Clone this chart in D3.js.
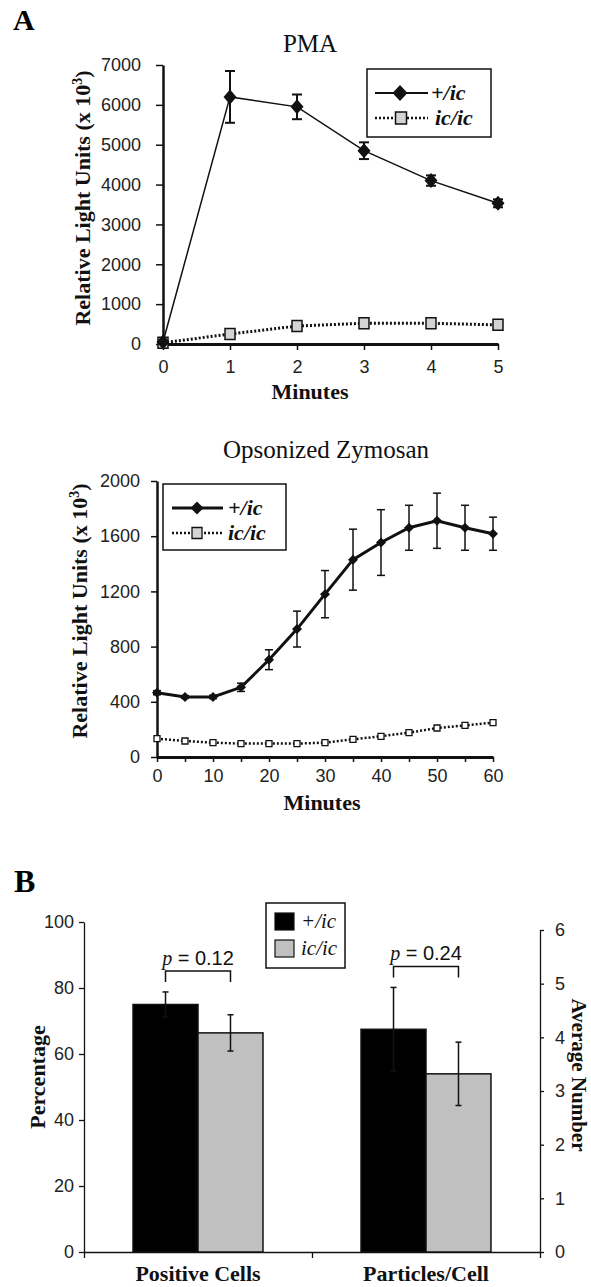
<!DOCTYPE html>
<html><head><meta charset="utf-8">
<script src="https://cdn.jsdelivr.net/npm/d3@7"></script>
<style>html,body{margin:0;padding:0;background:#fff;overflow:hidden}</style>
</head><body>
<svg id="c" width="591" height="1287"></svg>
<script>
// ---------- DATA ----------
const groups = ["+/ic", "ic/ic"];

// Panel A – PMA
const pmaMinutes = [0, 1, 2, 3, 4, 5];
const pmaHet = [50, 6200, 5950, 4850, 4100, 3530];
const pmaHetErr = [40, 650, 310, 210, 130, 100];
const pmaHom = [30, 250, 450, 520, 520, 480];
const pmaYTicks = [0, 1000, 2000, 3000, 4000, 5000, 6000, 7000];

// Panel A – Opsonized Zymosan
const zymMinutes = [0, 5, 10, 15, 20, 25, 30, 35, 40, 45, 50, 55, 60];
const zymHet = [466, 435, 435, 505, 705, 927, 1180, 1430, 1554, 1661, 1712, 1661, 1618];
const zymHetErr = [15, 10, 12, 30, 72, 130, 171, 221, 238, 163, 200, 163, 120];
const zymHom = [133, 116, 104, 97, 97, 97, 104, 128, 150, 176, 210, 229, 249];
const zymYTicks = [0, 400, 800, 1200, 1600, 2000];
const zymXTicks = [0, 5, 10, 15, 20, 25, 30, 35, 40, 45, 50, 55, 60];

// Panel B
const barCategories = ["Positive Cells", "Particles/Cell"];
const barHet = [75.0, 4.15];
const barHetErr = [3.8, 0.78];
const barHom = [66.4, 3.32];
const barHomErr = [5.5, 0.59];
const pValues = ["0.12", "0.24"];
const barLeftTicks = [0, 20, 40, 60, 80, 100];
const barRightTicks = [0, 1, 2, 3, 4, 5, 6];

// ---------- HELPERS ----------
const SERIF = "'Liberation Serif','Times New Roman',serif";
const SANS = "'Liberation Sans',Arial,sans-serif";
const svg = d3.select("#c");

const diamondPath = (w, h) => `M0,${-h/2}L${w/2},0L0,${h/2}L${-w/2},0Z`;
const squarePath = (w, h) => `M${-w/2},${-h/2}h${w}v${h}h${-w}Z`;

function styleAxis(g, dw, tw, fs) {
  g.attr("font-family", SANS).attr("font-size", fs);
  g.select(".domain").attr("stroke", "#111").attr("stroke-width", dw);
  g.selectAll(".tick line").attr("stroke", "#111").attr("stroke-width", tw);
  g.selectAll(".tick text").attr("fill", "#222");
}

function yLabel(x, cy, rot, fs = 22) {
  return svg.append("text")
    .attr("transform", `translate(${x},${cy}) rotate(${rot})`)
    .attr("text-anchor", "middle")
    .attr("font-family", SERIF).attr("font-weight", "bold").attr("font-size", fs)
    .attr("fill", "#111");
}

function rluLabel(x, cy) {
  const t = yLabel(x, cy, -90);
  t.append("tspan").text("Relative Light Units (x 10");
  t.append("tspan").attr("font-size", 14).attr("dy", -8).text("3");
  t.append("tspan").attr("dy", 8).text(")");
}

function errBars(g, xs, xsFn, ysFn, vals, errs, cap, sw) {
  const d = xs.map((m, i) => ({ m, v: vals[i], e: errs[i] }));
  g.selectAll(null).data(d).join("line")
    .attr("x1", a => xsFn(a.m)).attr("x2", a => xsFn(a.m))
    .attr("y1", a => ysFn(a.v - a.e)).attr("y2", a => ysFn(a.v + a.e))
    .attr("stroke", "#111").attr("stroke-width", sw);
  [1, -1].forEach(s => {
    g.selectAll(null).data(d).join("line")
      .attr("x1", a => xsFn(a.m) - cap/2).attr("x2", a => xsFn(a.m) + cap/2)
      .attr("y1", a => ysFn(a.v + s*a.e)).attr("y2", a => ysFn(a.v + s*a.e))
      .attr("stroke", "#111").attr("stroke-width", sw);
  });
}

// Panel letters
svg.append("text").attr("x", 13).attr("y", 30).attr("font-family", SERIF)
  .attr("font-weight", "bold").attr("font-size", 30).text("A");
svg.append("text").attr("x", 14).attr("y", 892).attr("font-family", SERIF)
  .attr("font-weight", "bold").attr("font-size", 32).text("B");

// ---------- PMA ----------
{
  const x = d3.scaleLinear([0, 5], [163, 498]);
  const y = d3.scaleLinear([0, 7000], [344, 65]);

  svg.append("text").attr("x", 310).attr("y", 52).attr("text-anchor", "middle")
    .attr("font-family", SERIF).attr("font-size", 25).attr("fill", "#111").text("PMA");

  const gx = svg.append("g").attr("transform", `translate(0,${y(0)})`)
    .call(d3.axisBottom(x).tickValues(pmaMinutes).tickFormat(d3.format("d"))
      .tickSize(6).tickSizeOuter(0).tickPadding(10));
  styleAxis(gx, 3, 1.5, 18);
  const gy = svg.append("g").attr("transform", `translate(${x(0)},0)`)
    .call(d3.axisLeft(y).tickValues(pmaYTicks).tickFormat(d3.format("d"))
      .tickSize(7).tickSizeOuter(0).tickPadding(15));
  styleAxis(gy, 2.5, 1.5, 18);

  rluLabel(90, 198);
  svg.append("text").attr("x", 310).attr("y", 399).attr("text-anchor", "middle")
    .attr("font-family", SERIF).attr("font-weight", "bold").attr("font-size", 22)
    .attr("fill", "#111").text("Minutes");

  const line = d3.line().x((d, i) => x(pmaMinutes[i])).y(d => y(d));
  svg.append("path").attr("d", line(pmaHom)).attr("fill", "none")
    .attr("stroke", "#111").attr("stroke-width", 3).attr("stroke-dasharray", "2,2");
  svg.append("path").attr("d", line(pmaHet)).attr("fill", "none")
    .attr("stroke", "#111").attr("stroke-width", 1.5);

  errBars(svg.append("g"), pmaMinutes, x, y, pmaHet, pmaHetErr, 10, 2);

  svg.append("g").selectAll("path").data(pmaHom).join("path")
    .attr("transform", (d, i) => `translate(${x(pmaMinutes[i])},${y(d)})`)
    .attr("d", squarePath(10, 11)).attr("fill", "#d4d4d4").attr("stroke", "#111").attr("stroke-width", 1.5);
  svg.append("g").selectAll("path").data(pmaHet).join("path")
    .attr("transform", (d, i) => `translate(${x(pmaMinutes[i])},${y(d)})`)
    .attr("d", diamondPath(13, 15)).attr("fill", "#111");

  // legend
  const lg = svg.append("g");
  lg.append("rect").attr("x", 367).attr("y", 69).attr("width", 124).attr("height", 68)
    .attr("fill", "#fff").attr("stroke", "#111").attr("stroke-width", 1.5);
  lg.append("line").attr("x1", 375).attr("x2", 428).attr("y1", 93).attr("y2", 93)
    .attr("stroke", "#111").attr("stroke-width", 2);
  lg.append("path").attr("transform", "translate(400,93)").attr("d", diamondPath(15, 16)).attr("fill", "#111");
  lg.append("line").attr("x1", 375).attr("x2", 428).attr("y1", 118).attr("y2", 118)
    .attr("stroke", "#111").attr("stroke-width", 2.5).attr("stroke-dasharray", "2,2");
  lg.append("path").attr("transform", "translate(401,118)").attr("d", squarePath(11, 12))
    .attr("fill", "#d4d4d4").attr("stroke", "#111").attr("stroke-width", 1.5);
  lg.selectAll("text").data(groups).join("text")
    .attr("x", (d, i) => i ? 435 : 431).attr("y", (d, i) => 100 + i*25)
    .attr("font-family", SERIF).attr("font-style", "italic").attr("font-weight", "bold")
    .attr("font-size", 22).attr("fill", "#111").text(d => d);
}

// ---------- Opsonized Zymosan ----------
{
  const x = d3.scaleLinear([0, 60], [157, 493]);
  const y = d3.scaleLinear([0, 2000], [757, 481]);

  svg.append("text").attr("x", 326).attr("y", 458).attr("text-anchor", "middle")
    .attr("font-family", SERIF).attr("font-size", 25).attr("fill", "#111").text("Opsonized Zymosan");

  const gx = svg.append("g").attr("transform", `translate(0,${y(0)})`)
    .call(d3.axisBottom(x).tickValues(zymXTicks).tickFormat(d => d % 10 === 0 ? d : "")
      .tickSize(5).tickSizeOuter(0).tickPadding(7));
  styleAxis(gx, 3, 1.5, 18);
  const gy = svg.append("g").attr("transform", `translate(${x(0)},0)`)
    .call(d3.axisLeft(y).tickValues(zymYTicks).tickFormat(d3.format("d"))
      .tickSize(6).tickSizeOuter(0).tickPadding(11));
  styleAxis(gy, 2.5, 1.5, 18);

  rluLabel(87, 611);
  svg.append("text").attr("x", 322).attr("y", 810).attr("text-anchor", "middle")
    .attr("font-family", SERIF).attr("font-weight", "bold").attr("font-size", 22)
    .attr("fill", "#111").text("Minutes");

  const line = d3.line().x((d, i) => x(zymMinutes[i])).y(d => y(d));
  svg.append("path").attr("d", line(zymHom)).attr("fill", "none")
    .attr("stroke", "#111").attr("stroke-width", 2.5).attr("stroke-dasharray", "2,2");
  svg.append("path").attr("d", line(zymHet)).attr("fill", "none")
    .attr("stroke", "#111").attr("stroke-width", 3);

  errBars(svg.append("g"), zymMinutes, x, y, zymHet, zymHetErr, 8, 1.5);

  svg.append("g").selectAll("path").data(zymHom).join("path")
    .attr("transform", (d, i) => `translate(${x(zymMinutes[i])},${y(d)})`)
    .attr("d", squarePath(6, 6)).attr("fill", "#fff").attr("stroke", "#111").attr("stroke-width", 1.3);
  svg.append("g").selectAll("path").data(zymHet).join("path")
    .attr("transform", (d, i) => `translate(${x(zymMinutes[i])},${y(d)})`)
    .attr("d", diamondPath(10, 10)).attr("fill", "#111");

  const lg = svg.append("g");
  lg.append("rect").attr("x", 163).attr("y", 484).attr("width", 123).attr("height", 66)
    .attr("fill", "#fff").attr("stroke", "#111").attr("stroke-width", 1.5);
  lg.append("line").attr("x1", 172).attr("x2", 223).attr("y1", 508).attr("y2", 508)
    .attr("stroke", "#111").attr("stroke-width", 3);
  lg.append("path").attr("transform", "translate(197,508)").attr("d", diamondPath(13, 13)).attr("fill", "#111");
  lg.append("line").attr("x1", 172).attr("x2", 223).attr("y1", 533).attr("y2", 533)
    .attr("stroke", "#111").attr("stroke-width", 2.5).attr("stroke-dasharray", "2,2");
  lg.append("path").attr("transform", "translate(197,533)").attr("d", squarePath(10, 11))
    .attr("fill", "#d4d4d4").attr("stroke", "#111").attr("stroke-width", 1.3);
  lg.selectAll("text").data(groups).join("text")
    .attr("x", 228).attr("y", (d, i) => 515 + i*25)
    .attr("font-family", SERIF).attr("font-style", "italic").attr("font-weight", "bold")
    .attr("font-size", 22).attr("fill", "#111").text(d => d);
}

// ---------- Panel B ----------
{
  const xb = d3.scaleBand().domain(barCategories).range([84, 540]).paddingInner(0.43).paddingOuter(0.215);
  const xg = d3.scaleBand().domain(groups).range([0, xb.bandwidth()]);
  const yL = d3.scaleLinear([0, 100], [1252, 922]);
  const yR = d3.scaleLinear([0, 6], [1252, 930]);
  const scaleFor = i => i === 0 ? yL : yR;
  const fills = ["#000", "#c0c0c0"];

  const rows = [];
  barCategories.forEach((c, i) => {
    rows.push({ c, i, g: groups[0], v: barHet[i], e: barHetErr[i] });
    rows.push({ c, i, g: groups[1], v: barHom[i], e: barHomErr[i] });
  });

  // axes
  const gl = svg.append("g").attr("transform", "translate(84,0)")
    .call(d3.axisLeft(yL).tickValues(barLeftTicks).tickFormat(d3.format("d"))
      .tickSize(5).tickSizeOuter(0).tickPadding(5));
  styleAxis(gl, 1.3, 1.3, 18);
  const gr = svg.append("g").attr("transform", "translate(540,0)")
    .call(d3.axisRight(yR).tickValues(barRightTicks).tickFormat(d3.format("d"))
      .tickSize(4).tickSizeOuter(0).tickPadding(11));
  styleAxis(gr, 1.3, 1.3, 18);
  const xEdge = d3.scaleLinear([0, 2], [84, 540]);
  const gx = svg.append("g").attr("transform", "translate(0,1252)")
    .call(d3.axisBottom(xEdge).tickValues([0, 1, 2]).tickFormat("").tickSize(6).tickSizeOuter(0));
  styleAxis(gx, 1.3, 1.3, 18);
  const gc = svg.append("g").attr("transform", "translate(0,1252)")
    .call(d3.axisBottom(xb).tickSize(0).tickPadding(13));
  gc.select(".domain").remove();
  gc.attr("font-family", SERIF).attr("font-size", 22).attr("font-weight", "bold");
  gc.selectAll(".tick text").attr("fill", "#111");

  // bars
  svg.append("g").selectAll("rect").data(rows).join("rect")
    .attr("x", d => xb(d.c) + xg(d.g)).attr("width", xg.bandwidth())
    .attr("y", d => scaleFor(d.i)(d.v)).attr("height", d => scaleFor(d.i)(0) - scaleFor(d.i)(d.v))
    .attr("fill", d => fills[groups.indexOf(d.g)]).attr("stroke", "#111").attr("stroke-width", 1.5);

  // error bars
  const eg = svg.append("g");
  rows.forEach(d => {
    const s = scaleFor(d.i), cx = xb(d.c) + xg(d.g) + xg.bandwidth()/2;
    eg.append("line").attr("x1", cx).attr("x2", cx).attr("y1", s(d.v - d.e)).attr("y2", s(d.v + d.e))
      .attr("stroke", "#111").attr("stroke-width", 1.5);
    [1, -1].forEach(k => eg.append("line").attr("x1", cx - 3).attr("x2", cx + 3)
      .attr("y1", s(d.v + k*d.e)).attr("y2", s(d.v + k*d.e)).attr("stroke", "#111").attr("stroke-width", 1.5));
  });

  // p-value brackets
  barCategories.forEach((c, i) => {
    const s = scaleFor(i);
    const x1 = xb(c) + xg(groups[0]) + xg.bandwidth()/2;
    const x2 = xb(c) + xg(groups[1]) + xg.bandwidth()/2;
    const topErr = Math.min(s(barHet[i] + barHetErr[i]), s(barHom[i] + barHomErr[i]));
    const legB = topErr - 10, top = legB - 11;
    svg.append("path").attr("d", `M${x1},${legB}V${top}H${x2}V${legB}`)
      .attr("fill", "none").attr("stroke", "#111").attr("stroke-width", 1.5);
    const t = svg.append("text").attr("x", (x1 + x2)/2).attr("y", top - 6).attr("text-anchor", "middle")
      .attr("font-size", 20).attr("fill", "#111");
    t.append("tspan").attr("font-family", SERIF).attr("font-style", "italic").text("p");
    t.append("tspan").attr("font-family", SANS).text(" = " + pValues[i]);
  });

  // legend
  const lg = svg.append("g");
  lg.append("rect").attr("x", 266).attr("y", 903).attr("width", 79).attr("height", 65)
    .attr("fill", "#fff").attr("stroke", "#111").attr("stroke-width", 1.5);
  lg.selectAll("rect.k").data(groups).join("rect").attr("class", "k")
    .attr("x", 275).attr("y", (d, i) => 913 + i*27).attr("width", 19).attr("height", 17)
    .attr("fill", (d, i) => fills[i]).attr("stroke", "#111").attr("stroke-width", 1.2);
  lg.selectAll("text").data(groups).join("text")
    .attr("x", 301).attr("y", (d, i) => 928 + i*27)
    .attr("font-family", SERIF).attr("font-style", "italic").attr("font-size", 21)
    .attr("fill", "#111").text(d => d);

  yLabel(45, 1077, -90).text("Percentage");
  yLabel(572, 1075, 90, 21).text("Average Number");
}
</script>
</body></html>
